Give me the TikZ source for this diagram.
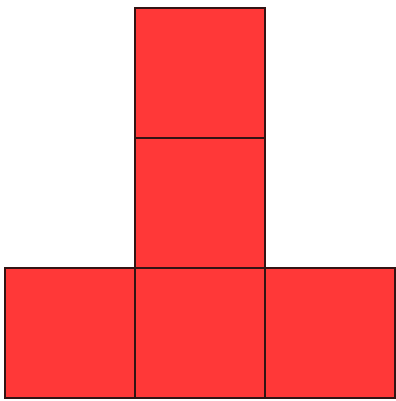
\documentclass[tikz,border=0pt]{standalone}
\usepackage{xcolor}
\definecolor{tred}{RGB}{255,56,56}
\definecolor{tedge}{RGB}{50,20,20}
\usetikzlibrary{positioning}
\begin{document}
\begin{tikzpicture}[x=0.02cm, y=-0.02cm,
    cell/.style={draw=tedge, fill=tred, line width=0.8pt, minimum size=2.6cm,
      inner sep=0pt, outer sep=0pt}]

\useasboundingbox (0,0) rectangle (395,401);

% Column of two
\node[cell] (top) at (200,73) {};
\node[cell] (mid) at (200,203) {};

% Bottom row
\node[cell] (base) at (200,333) {};
\node[cell] (left) at (70,333) {};
\node[cell] (right) at (330,333) {};

\end{tikzpicture}
\end{document}
